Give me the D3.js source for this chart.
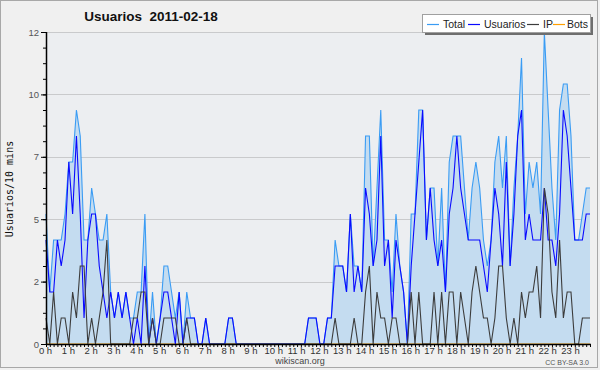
<!DOCTYPE html>
<html><head><meta charset="utf-8">
<script src="https://cdn.jsdelivr.net/npm/d3@7"></script>
<style>
html,body{margin:0;padding:0;background:#f0f0f0;}
svg{display:block;font-family:"Liberation Sans",Arial,sans-serif;}
</style></head>
<body>
<svg id="chart" width="600" height="370"></svg>
<script>
const title = "Usuarios  2011-02-18";
const yTitle = "Usuarios/10 mins";
const seriesNames = ["Total","Usuarios","IP","Bots"];
const hourLabels = d3.range(24).map(h => h + " h");
const yTickValues = [0, 2.4, 4.8, 7.2, 9.6, 12];
const yTickLabels = ["0","2","5","7","10","12"];
// one value every 10 minutes, 144 per series (12 per line = 2 hours)
const usuarios = [
  4,2,2,4,3,4,7,5,8,5,1,4,
  5,5,3,2,1,2,1,2,1,2,1,0,
  1,0,3,0,1,0,1,2,2,1,0,2,
  0,1,1,1,0,0,1,0,0,0,0,0,
  1,1,0,0,0,0,0,0,0,0,0,0,
  0,0,0,0,0,0,0,0,0,1,1,1,
  0,0,1,1,3,3,3,2,5,2,3,2,
  6,5,3,4,8,3,4,1,4,3,2,0,
  3,5,7,9,4,6,4,3,4,2,5,6,
  8,6,5,4,4,4,4,3,2,4,6,5,
  3,7,3,5,8,9,4,5,4,4,4,6,
  4,4,3,5,9,8,6,4,4,4,5,5];
const ip = [
  1,0,2,0,1,1,0,2,1,3,3,0,
  1,0,1,2,4,0,0,0,0,0,0,1,
  1,2,2,0,1,0,0,1,1,1,1,0,
  0,1,0,0,0,0,0,0,0,0,0,0,
  0,0,0,0,0,0,0,0,0,0,0,0,
  0,0,0,0,0,0,0,0,0,0,0,0,
  0,0,0,0,1,0,0,0,0,1,0,0,
  2,3,0,2,1,1,0,1,1,0,0,0,
  2,0,2,0,0,0,2,0,2,0,2,2,
  0,2,1,0,2,3,2,1,1,0,1,3,
  3,1,0,1,0,2,1,2,2,3,1,6,
  5,2,1,4,1,2,2,0,0,1,1,1];
const total = [
  5,2,4,4,4,5,7,7,9,8,4,4,
  6,5,4,4,5,2,1,2,1,2,1,1,
  2,2,5,0,2,0,1,3,3,2,1,2,
  0,2,1,1,0,0,1,0,0,0,0,0,
  1,1,0,0,0,0,0,0,0,0,0,0,
  0,0,0,0,0,0,0,0,0,1,1,1,
  0,0,1,1,4,3,3,2,5,3,3,2,
  8,8,3,6,9,4,4,2,5,3,2,0,
  5,5,9,9,4,6,6,3,6,2,7,8,
  8,8,6,4,6,7,6,4,3,4,7,8,
  6,8,3,6,8,11,5,7,6,7,5,12,
  9,6,4,9,10,10,8,4,4,5,6,6];
const bots = [
  0,0,0,0,0,0,0,0,0,0,0,0, 0,0,0,0,0,0,0,0,0,0,0,0,
  0,0,0,0,0,0,0,0,0,0,0,0, 0,0,0,0,0,0,0,0,0,0,0,0,
  0,0,0,0,0,0,0,0,0,0,0,0, 0,0,0,0,0,0,0,0,0,0,0,0,
  0,0,0,0,0,0,0,0,0,0,0,0, 0,0,0,0,0,0,0,0,0,0,0,0,
  0,0,0,0,0,0,0,0,0,0,0,0, 0,0,0,0,0,0,0,0,0,0,0,0,
  0,0,0,0,0,0,0,0,0,0,0,0, 0,0,0,0,0,0,0,0,0,0,0,0];

(function(){
const colors = {Total:"#3a9cf4", Usuarios:"#0a0aff", IP:"#3c3c3c", Bots:"#ff9f00"};
const fillColor = "#c4dcf0";

const W = 600, H = 370;
const pL = 46, pR = 590, pT = 32, pB = 344;
const svg = d3.select("#chart");

svg.append("rect").attr("x",0.5).attr("y",0.5).attr("width",W-3).attr("height",H-3)
  .attr("fill","#f0f0f0").attr("stroke","#a8a8a8");
svg.append("rect").attr("x",pL).attr("y",pT).attr("width",pR-pL).attr("height",pB-pT)
  .attr("fill","#eceef1");

const n = total.length;
const x = d3.scaleLinear().domain([0,n-1]).range([pL,pR]);
const y = d3.scaleLinear().domain([0,12]).range([pB,pT]);

svg.append("g").selectAll("line").data(yTickValues.slice(1)).join("line")
  .attr("x1",pL).attr("x2",pR).attr("y1",d=>Math.round(y(d))+0.5).attr("y2",d=>Math.round(y(d))+0.5)
  .attr("stroke","#c9cacc").attr("stroke-width",1);

const idx = d3.range(n);
const area = d3.area().x(i=>x(i)).y0(pB).y1(i=>y(total[i]));
svg.append("path").attr("d",area(idx)).attr("fill",fillColor);

const line = arr => d3.line().x(i=>x(i)).y(i=>y(arr[i]))(idx);
svg.append("path").attr("d",line(bots)).attr("fill","none").attr("stroke",colors.Bots).attr("stroke-width",1.1);
svg.append("path").attr("d",line(total)).attr("fill","none").attr("stroke",colors.Total).attr("stroke-width",1.1);
svg.append("path").attr("d",line(usuarios)).attr("fill","none").attr("stroke",colors.Usuarios).attr("stroke-width",1.1);
svg.append("path").attr("d",line(ip)).attr("fill","none").attr("stroke",colors.IP).attr("stroke-width",1.1);

const yMinor = d3.range(0, 12.001, 0.6);
const yAxis = svg.append("g").attr("transform",`translate(${pL},0)`);
yAxis.call(d3.axisLeft(y).tickValues(yMinor).tickSize(3).tickFormat(""));
yAxis.select(".domain").remove();
yAxis.selectAll("line").attr("stroke","#000");
const yMajor = svg.append("g").attr("transform",`translate(${pL},0)`)
  .call(d3.axisLeft(y).tickValues(yTickValues).tickSize(5).tickPadding(2)
    .tickFormat((d,i)=>yTickLabels[i]));
yMajor.select(".domain").remove();
yMajor.selectAll("line").attr("stroke","#000");
yMajor.selectAll("text").attr("fill","#555").style("font-size","9.5px").style("font-family","Liberation Sans");
svg.append("line").attr("x1",pL+0.5).attr("x2",pL+0.5).attr("y1",pT).attr("y2",pB+1)
  .attr("stroke","#000").attr("stroke-width",1.5);

const xAxis = svg.append("g").attr("transform",`translate(0,${pB})`)
  .call(d3.axisBottom(x).tickValues(idx).tickSize(3).tickFormat(""));
xAxis.select(".domain").remove();
xAxis.selectAll("line").attr("stroke","#000");
const xLab = svg.append("g").attr("transform",`translate(-1,${pB})`)
  .call(d3.axisBottom(x).tickValues(d3.range(0,n,6)).tickSize(0).tickPadding(3)
    .tickFormat((d,i)=>hourLabels[i]));
xLab.select(".domain").remove();
xLab.selectAll("text").attr("fill","#333").style("font-size","9.5px").style("font-family","Liberation Sans");
svg.append("line").attr("x1",pL).attr("x2",pR+1).attr("y1",pB+0.5).attr("y2",pB+0.5)
  .attr("stroke","#000").attr("stroke-width",1.5);

svg.append("text").attr("x",151).attr("y",21).attr("text-anchor","middle")
  .style("font-size","13.5px").style("font-weight","bold").style("white-space","pre")
  .attr("fill","#111").text(title);
svg.append("text").attr("transform","translate(13,189) rotate(-90)").attr("text-anchor","middle")
  .style("font-family","DejaVu Sans Mono").style("font-size","10px").attr("fill","#111").text(yTitle);
svg.append("text").attr("x",300).attr("y",364).attr("text-anchor","middle")
  .style("font-size","9px").attr("fill","#444").text("wikiscan.org");
svg.append("text").attr("x",589).attr("y",365).attr("text-anchor","end")
  .style("font-size","7px").attr("fill","#555").text("CC BY-SA 3.0");

const lg = svg.append("g");
lg.append("rect").attr("x",425).attr("y",17).attr("width",168).attr("height",18).attr("fill","#6e6e6e");
lg.append("rect").attr("x",422.5).attr("y",14.5).attr("width",168).attr("height",18)
  .attr("fill","#fff").attr("stroke","#a0a0a0");
const legX = [427, 468, 527, 553];
const legTextX = [443, 484, 543, 567];
seriesNames.forEach((s,i)=>{
  lg.append("line").attr("x1",legX[i]).attr("x2",legX[i]+12).attr("y1",24.5).attr("y2",24.5)
    .attr("stroke",colors[s]).attr("stroke-width",1.2);
  lg.append("text").attr("x",legTextX[i]).attr("y",28).style("font-size","10.5px").attr("fill","#222").text(s);
});
})();
</script>
</body></html>
